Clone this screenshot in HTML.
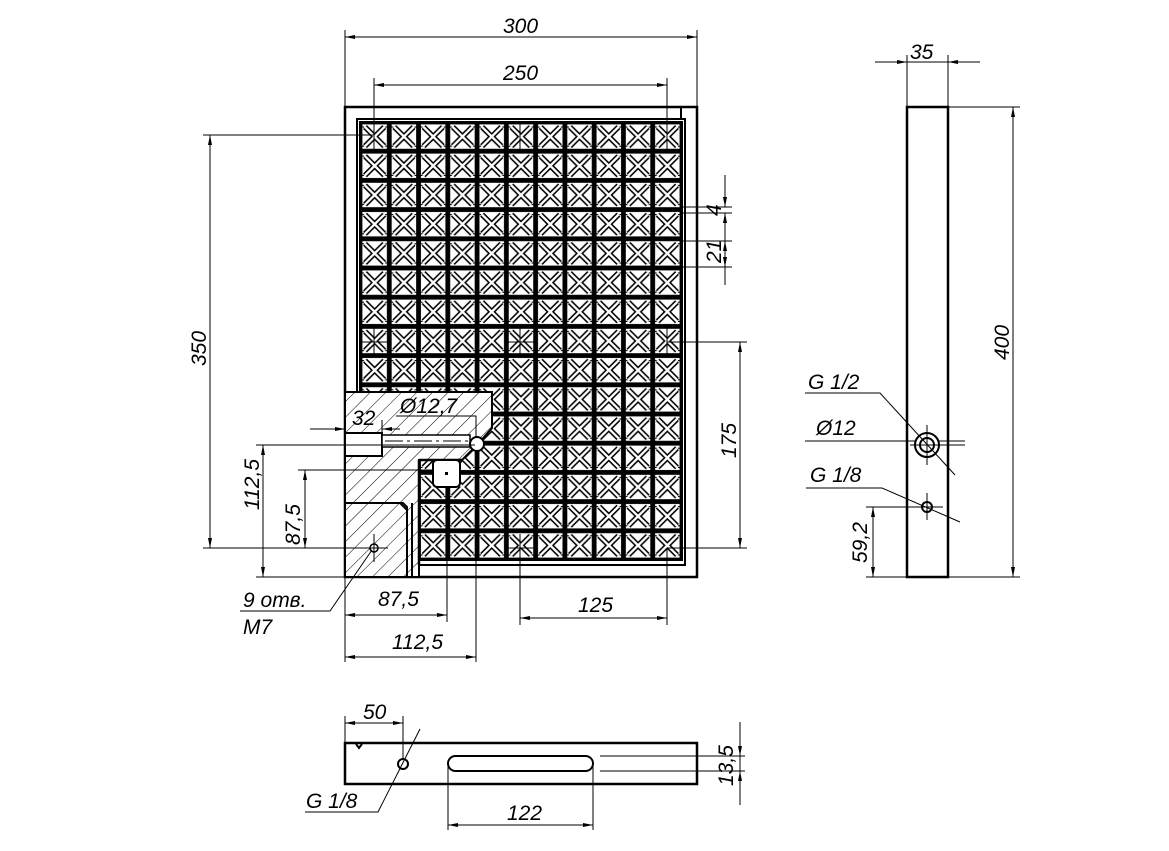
<!DOCTYPE html>
<html><head><meta charset="utf-8"><style>
html,body{margin:0;padding:0;background:#fff}
svg{display:block}
text{font-family:"Liberation Sans",sans-serif;font-style:italic;font-size:21px;fill:#000}
</style></head><body>
<svg width="1169" height="851" viewBox="0 0 1169 851" xmlns="http://www.w3.org/2000/svg">
<defs>
<pattern id="cell" patternUnits="userSpaceOnUse" x="360" y="122" width="29.27" height="29.2">
<rect width="29.27" height="29.2" fill="#fff"/>
<g stroke="#000" fill="none">
<path d="M5,5 L24.3,24.2 M24.3,5 L5,24.2" stroke-width="5.5"/>
<path d="M5,5 L24.3,24.2 M24.3,5 L5,24.2" stroke="#fff" stroke-width="2.4"/>
<rect x="1.2" y="1.2" width="26.87" height="26.8" stroke-width="2.4"/>
<path d="M2,5 H4 M25.3,5 H27.3 M2,24.2 H4 M25.3,24.2 H27.3" stroke-width="1.2"/>
</g>
</pattern>
<pattern id="hatch" patternUnits="userSpaceOnUse" width="11" height="11" patternTransform="rotate(45)">
<rect width="11" height="11" fill="#fff"/>
<line x1="0" y1="0" x2="0" y2="11" stroke="#000" stroke-width="1"/>
</pattern>
<marker id="a" viewBox="0 0 10 4" refX="10" refY="2" markerWidth="10" markerHeight="4" markerUnits="userSpaceOnUse" orient="auto-start-reverse"><path d="M0,0 L10,2 L0,4z" fill="#000"/></marker>
</defs>

<rect x="345" y="107" width="352" height="470" fill="#fff" stroke="#000" stroke-width="2.5"/>
<rect x="357" y="119" width="328" height="446" fill="#fff" stroke="#000" stroke-width="2"/>
<line x1="681" y1="107" x2="681" y2="119" stroke="#000" stroke-width="2"/>
<rect x="360" y="122" width="322" height="438" fill="url(#cell)" stroke="#000" stroke-width="2"/>

<polygon points="345,392 492,392 492,428 477,445 462,460 419,460 419,577 345,577" fill="url(#hatch)" stroke="#000" stroke-width="2"/>
<rect x="419" y="460" width="87" height="100" fill="url(#cell)"/>
<line x1="419" y1="460" x2="419" y2="565" stroke="#000" stroke-width="2.5"/>
<line x1="419" y1="460" x2="462" y2="460" stroke="#000" stroke-width="2.5"/>
<rect x="433" y="460" width="27" height="27" rx="4" fill="#fff" stroke="#000" stroke-width="2"/>
<rect x="445" y="472" width="3" height="3" fill="#000"/>
<rect x="345" y="433" width="37" height="23" fill="#fff" stroke="#000" stroke-width="2"/>
<rect x="382" y="435" width="88" height="12" fill="#fff" stroke="#000" stroke-width="1.5"/>
<line x1="385" y1="441" x2="470" y2="441" stroke="#000" stroke-width="1" stroke-dasharray="18,4,3,4"/>
<circle cx="477" cy="444" r="7" fill="#fff" stroke="#000" stroke-width="2"/>
<polygon points="345,503 400,503 407,510 407,577 345,577" fill="url(#hatch)" stroke="#000" stroke-width="2"/>
<path d="M345,503 H403 L407,507 V577 M412,503 V577" stroke="#000" stroke-width="2" fill="none"/>
<circle cx="374" cy="548" r="4" fill="#fff" stroke="#000" stroke-width="1.5"/>

<g stroke="#000" stroke-width="1">
<path d="M374,122 V150 M520,122 V150 M667,122 V150 M360,342 H388 M506,342 H534 M374,328 V356 M520,328 V356 M667,328 V356 M360,548 H388 M506,548 H534 M374,534 V562 M520,534 V562"/>
</g>

<g stroke="#000" stroke-width="1" fill="none">
<path d="M345,30 V107 M697,30 V107"/>
<line x1="345" y1="37" x2="697" y2="37" marker-start="url(#a)" marker-end="url(#a)"/>
<path d="M374,78 V135 M667,78 V135"/>
<line x1="374" y1="85" x2="667" y2="85" marker-start="url(#a)" marker-end="url(#a)"/>
<path d="M203,135 H374 M203,548 H374"/>
<line x1="210" y1="135" x2="210" y2="548" marker-start="url(#a)" marker-end="url(#a)"/>
<path d="M256,445 H475 M256,577 H345"/>
<line x1="263" y1="445" x2="263" y2="577" marker-start="url(#a)" marker-end="url(#a)"/>
<path d="M298,470 H433 M298,548 H374"/>
<line x1="305" y1="470" x2="305" y2="548" marker-start="url(#a)" marker-end="url(#a)"/>
<line x1="310" y1="429" x2="345" y2="429" marker-end="url(#a)"/>
<line x1="400" y1="429" x2="382" y2="429" marker-end="url(#a)"/>
<path d="M382,420 V433"/>
<path d="M396,416 H476 V437"/>
<path d="M683,207 H732 M683,213 H732 M683,241 H732 M683,267 H732"/>
<line x1="725" y1="175" x2="725" y2="207" marker-end="url(#a)"/>
<line x1="725" y1="245" x2="725" y2="213" marker-end="url(#a)"/>
<line x1="725" y1="241" x2="725" y2="267" marker-start="url(#a)" marker-end="url(#a)"/>
<line x1="725" y1="267" x2="725" y2="285"/>
<path d="M667,342 H747 M667,548 H747"/>
<line x1="740" y1="342" x2="740" y2="548" marker-start="url(#a)" marker-end="url(#a)"/>
<path d="M345,577 V662 M447,487 V622 M476,452 V662 M520,548 V625 M667,548 V625"/>
<line x1="345" y1="615" x2="447" y2="615" marker-start="url(#a)" marker-end="url(#a)"/>
<line x1="345" y1="657" x2="476" y2="657" marker-start="url(#a)" marker-end="url(#a)"/>
<line x1="520" y1="618" x2="667" y2="618" marker-start="url(#a)" marker-end="url(#a)"/>
<path d="M240,611 H330 L372,550"/>
</g>

<text x="503" y="33">300</text>
<text x="503" y="80">250</text>
<text transform="translate(206,366) rotate(-90)">350</text>
<text transform="translate(259,510) rotate(-90)">112,5</text>
<text transform="translate(300,545) rotate(-90)">87,5</text>
<text x="352" y="425">32</text>
<text x="400" y="413">Ø12,7</text>
<text transform="translate(721,216) rotate(-90)">4</text>
<text transform="translate(721,263) rotate(-90)">21</text>
<text transform="translate(736,458) rotate(-90)">175</text>
<text x="378" y="606">87,5</text>
<text x="392" y="649">112,5</text>
<text x="578" y="612">125</text>
<text x="243" y="607">9 отв.</text>
<text x="243" y="634">M7</text>

<rect x="907" y="107" width="41" height="470" fill="#fff" stroke="#000" stroke-width="2.5"/>
<circle cx="927" cy="445" r="12" fill="#fff" stroke="#000" stroke-width="2"/>
<circle cx="927" cy="445" r="7" fill="none" stroke="#000" stroke-width="2"/>
<circle cx="927" cy="507" r="5" fill="#fff" stroke="#000" stroke-width="2"/>
<g stroke="#000" stroke-width="1" fill="none">
<path d="M927,425 V465 M910,445 H965 M927,493 V520 M912,507 H943"/>
<path d="M907,55 V107 M948,55 V107"/>
<line x1="875" y1="62" x2="907" y2="62" marker-end="url(#a)"/>
<line x1="980" y1="62" x2="948" y2="62" marker-end="url(#a)"/>
<line x1="907" y1="62" x2="948" y2="62"/>
<path d="M948,107 H1020 M948,577 H1020"/>
<line x1="1013" y1="107" x2="1013" y2="577" marker-start="url(#a)" marker-end="url(#a)"/>
<path d="M805,393 H880 L955,475"/>
<path d="M805,441 H915 M939,441 H965"/>
<path d="M806,488 H882 L960,522"/>
<path d="M866,507 H940 M866,577 H907"/>
<line x1="873" y1="507" x2="873" y2="577" marker-start="url(#a)" marker-end="url(#a)"/>
</g>
<text x="910" y="59">35</text>
<text transform="translate(1009,360) rotate(-90)">400</text>
<text x="808" y="389">G 1/2</text>
<text x="816" y="435">Ø12</text>
<text x="810" y="482">G 1/8</text>
<text transform="translate(867,563) rotate(-90)">59,2</text>

<rect x="345" y="743" width="352" height="41" fill="#fff" stroke="#000" stroke-width="2.5"/>
<rect x="448" y="756" width="145" height="15" rx="7.5" fill="#fff" stroke="#000" stroke-width="2"/>
<circle cx="403" cy="764" r="5" fill="#fff" stroke="#000" stroke-width="2"/>
<path d="M356,744 L359,748 L362,744" stroke="#000" stroke-width="2" fill="none"/>
<g stroke="#000" stroke-width="1" fill="none">
<path d="M345,716 V743 M403,716 V760"/>
<line x1="345" y1="723" x2="403" y2="723" marker-start="url(#a)" marker-end="url(#a)"/>
<path d="M305,812 H378 L420,729"/>
<path d="M448,764 V830 M593,764 V830"/>
<line x1="448" y1="825" x2="593" y2="825" marker-start="url(#a)" marker-end="url(#a)"/>
<path d="M600,756 H745 M600,771 H745"/>
<line x1="740" y1="722" x2="740" y2="756" marker-end="url(#a)"/>
<line x1="740" y1="805" x2="740" y2="771" marker-end="url(#a)"/>
<line x1="740" y1="756" x2="740" y2="771"/>
</g>
<text x="363" y="719">50</text>
<text x="306" y="808">G 1/8</text>
<text x="507" y="820">122</text>
<text transform="translate(733,786) rotate(-90)">13,5</text>
</svg>
</body></html>
